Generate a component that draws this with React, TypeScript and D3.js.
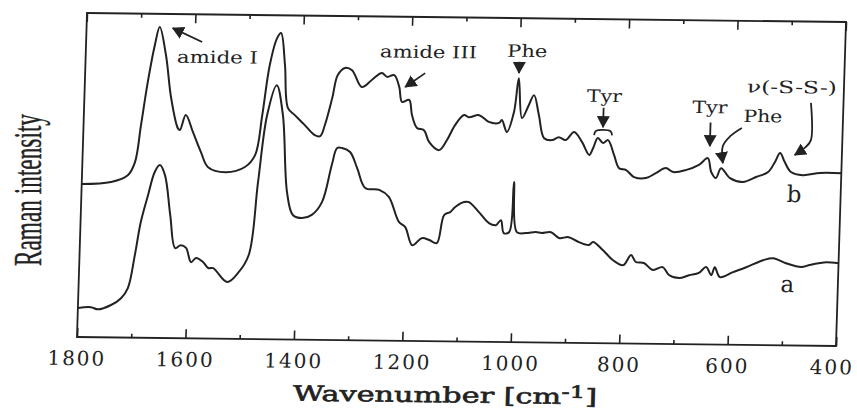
import * as d3 from 'd3';
import React, {useEffect, useRef} from 'react';

// trace b (upper): [wavenumber cm-1, Raman intensity a.u.]
const spectrumB: [number, number][] = [
  [1800, 51], [1746, 51.8], [1715, 54.2], [1703, 58.5], [1694, 70.9], [1684, 85.2], [1673, 97.6],
  [1665, 103.6], [1652, 94.3], [1640, 80], [1626, 70], [1622, 69.4], [1612, 74.4], [1598, 68.8],
  [1582, 62.1], [1568, 57.1], [1536, 55.5], [1500, 57.3], [1482, 61.3], [1471, 74.7], [1460, 91.4],
  [1448, 100.4], [1441, 102.1], [1432, 91.5], [1424, 77.1], [1411, 74.8], [1392, 71.5], [1373, 68.2],
  [1363, 67.9], [1355, 71.6], [1343, 80.6], [1334, 88.3], [1321, 90.7], [1308, 90], [1289, 84.4],
  [1271, 86.8], [1253, 89.2], [1243, 87.9], [1230, 88.5], [1220, 84.6], [1214, 79.6], [1201, 80.3],
  [1195, 75.3], [1185, 71], [1172, 70.3], [1162, 66.4], [1143, 63.7], [1129, 67.1], [1115, 72.1],
  [1099, 75.5], [1090, 74.8], [1071, 75.5], [1053, 73.3], [1034, 73], [1029, 74], [1019, 70],
  [1007, 76.7], [1000, 88], [992, 74.7], [980, 79.1], [971, 82.4], [961, 75.8], [950, 68.1],
  [935, 67.5], [923, 68.5], [910, 67.6], [895, 70.3], [880, 67], [866, 62.7], [859, 65], [851, 68.4],
  [841, 66.7], [832, 67.7], [820, 62.7], [810, 58.4], [797, 57.8], [782, 55.5], [760, 55.2],
  [742, 56.9], [724, 58.6], [710, 57.3], [687, 58], [663, 59.8], [647, 62.1], [640, 57.5],
  [631, 55.5], [622, 58.8], [605, 55.5], [581, 54.3], [557, 56], [535, 57.7], [523, 61.1],
  [514, 64.1], [505, 61.1], [493, 57.8], [471, 56.8], [439, 57.6], [400, 57.6],
];

// trace a (lower)
const spectrumA: [number, number][] = [
  [1800, 9.7], [1776, 10], [1763, 9.3], [1739, 10.8], [1721, 13.1], [1709, 16.5], [1698, 27.5],
  [1689, 38.5], [1677, 47.6], [1666, 55.3], [1657, 57.6], [1647, 54.3], [1635, 41], [1624, 30],
  [1614, 31], [1604, 30.1], [1594, 25.4], [1585, 26.8], [1572, 25.5], [1562, 23.5], [1553, 23.5],
  [1526, 18.9], [1507, 21.9], [1488, 28], [1475, 52.3], [1462, 74.7], [1446, 84.7], [1433, 74.8],
  [1421, 49.1], [1409, 41.5], [1392, 40.5], [1374, 41.6], [1356, 45.9], [1340, 58.3], [1331, 64],
  [1322, 64], [1307, 62.7], [1293, 57.4], [1277, 50.8], [1251, 50.2], [1233, 47.9], [1213, 39.6],
  [1201, 37.9], [1187, 31.9], [1170, 34.3], [1156, 33.7], [1142, 32.7], [1130, 42.1], [1119, 43.1],
  [1110, 44.8], [1094, 46.5], [1085, 46.5], [1066, 43.2], [1047, 39.6], [1034, 38.9], [1025, 40.6],
  [1019, 36.3], [1009, 36.7], [1003, 53.4], [995, 36.7], [978, 36.4], [960, 36.8], [949, 36.5],
  [932, 36.8], [917, 34.9], [899, 35.2], [880, 33.6], [861, 32.7], [854, 33.7], [835, 31],
  [816, 27.7], [797, 26.1], [783, 29.5], [774, 27.2], [759, 26.9], [742, 24.6], [724, 25.6],
  [712, 23], [693, 22], [675, 23], [657, 23.8], [644, 25.8], [634, 23.1], [628, 25.8], [618, 22.5],
  [594, 24.2], [570, 25.9], [539, 28.3], [521, 29], [497, 27.4], [469, 26.2], [453, 26.9],
  [434, 27.6], [423, 27.9], [400, 27.6],
];

const majorTicks = [1800, 1600, 1400, 1200, 1000, 800, 600, 400];
const minorTicks = [1700, 1500, 1300, 1100, 900, 700, 500];

// band labels, anchored at (wavenumber, intensity)
const peakLabels = [
  {text: 'amide I', wn: 1557, y: 91.8, size: 17, len: 81},
  {text: 'amide III', wn: 1168, y: 94.4, size: 17, len: 97},
  {text: 'Phe', wn: 986, y: 95.1, size: 17, len: 40},
  {text: 'Tyr', wn: 841, y: 80.4, size: 17, len: 35},
  {text: 'Tyr', wn: 646, y: 77.1, size: 17, len: 35},
  {text: 'Phe', wn: 548, y: 74.3, size: 17, len: 39},
  {text: 'ν(-S-S-)', wn: 496, y: 84.1, size: 17, len: 90},
  {text: 'b', wn: 486, y: 47.8, size: 23, len: 0},
  {text: 'a', wn: 493, y: 17.8, size: 23, len: 0},
];

const arrows: {pts: [number, number][], head: boolean}[] = [
  {pts: [[1586, 98.8], [1641, 103.3]], head: true},
  {pts: [[1173, 89.3], [1209, 84.6]], head: true},
  {pts: [[1000, 93.5], [1000, 89.7]], head: true},
  {pts: [[842, 78.5], [842, 72]], head: true},
  {pts: [[858, 69.3], [855, 70.7], [828, 70.7], [825, 69.3]], head: false},
  {pts: [[644, 74], [644, 66.1]], head: true},
  {pts: [[586, 72.3], [607, 69.5], [620, 66.2], [619, 60.5]], head: true},
  {pts: [[460, 80.9], [458, 68.5], [467, 66.2], [487, 63.5]], head: true},
];

export default function App() {
  const svgRef = useRef<SVGSVGElement>(null);

  useEffect(() => {
    drawSpectra();
  }, []);

  function drawSpectra() {
    const svg = d3.select(svgRef.current);
    svg.selectAll('*').remove();

    const ink = '#222';
    const width = 759, height = 324;

    svg.append('defs').append('marker')
      .attr('id', 'head')
      .attr('markerUnits', 'userSpaceOnUse')
      .attr('viewBox', '0 0 12 13')
      .attr('markerWidth', 12)
      .attr('markerHeight', 13)
      .attr('refX', 11)
      .attr('refY', 6.5)
      .attr('orient', 'auto')
      .append('path')
      .attr('d', 'M0,0L12,6.5L0,13Z')
      .attr('fill', ink);

    // y label
    svg.append('text')
      .attr('transform', 'translate(41,190) rotate(-90)')
      .attr('text-anchor', 'middle')
      .attr('font-family', 'Liberation Serif')
      .attr('font-size', 40)
      .attr('textLength', 152)
      .attr('lengthAdjust', 'spacingAndGlyphs')
      .attr('fill', ink)
      .attr('stroke', ink)
      .attr('stroke-width', 0.4)
      .text('Raman intensity');

    // the scanned frame is slightly sheared
    const g = svg.append('g')
      .attr('transform', 'matrix(1,0.01186,-0.0309,1,87,13)');

    const x = d3.scaleLinear().domain([1800, 400]).range([0, width]);
    const y = d3.scaleLinear().domain([0, 108]).range([height, 0]);

    const styleAxis = (a: any) => {
      a.select('.domain').remove();
      a.selectAll('line').attr('stroke', ink).attr('stroke-width', 1.6);
    };

    g.append('g')
      .attr('transform', 'translate(0,' + height + ')')
      .call(d3.axisBottom(x).tickValues(majorTicks).tickSize(-9).tickPadding(14).tickFormat((d: any) => String(d)))
      .call(styleAxis)
      .attr('font-family', 'DejaVu Serif')
      .attr('font-size', 20)
      .call((a: any) => a.selectAll('text')
        .attr('fill', ink)
        .attr('letter-spacing', 2)
        .attr('dx', (d: any) => (d === 400 ? -4 : 0)));

    g.append('g')
      .attr('transform', 'translate(0,' + height + ')')
      .call(d3.axisBottom(x).tickValues(minorTicks).tickSize(-4).tickFormat(() => ''))
      .call(styleAxis);

    g.append('g')
      .call(d3.axisTop(x).tickValues(majorTicks).tickSize(-9).tickFormat(() => ''))
      .call(styleAxis);

    g.append('g')
      .call(d3.axisTop(x).tickValues(minorTicks).tickSize(-4).tickFormat(() => ''))
      .call(styleAxis);

    g.append('rect')
      .attr('width', width)
      .attr('height', height)
      .attr('fill', 'none')
      .attr('stroke', ink)
      .attr('stroke-width', 1.8);

    // x title
    const title = g.append('text')
      .attr('x', width * 0.487)
      .attr('y', height + 61)
      .attr('text-anchor', 'middle')
      .attr('font-family', 'DejaVu Serif')
      .attr('font-size', 21)
      .attr('textLength', 304)
      .attr('lengthAdjust', 'spacingAndGlyphs')
      .attr('fill', ink)
      .attr('stroke', ink)
      .attr('stroke-width', 0.6);
    title.append('tspan').text('Wavenumber [cm');
    title.append('tspan').attr('dy', -6).attr('font-size', 17).text('-1');
    title.append('tspan').attr('dy', 6).text(']');

    const line = d3.line<[number, number]>()
      .x(d => x(d[0]))
      .y(d => y(d[1]))
      .curve(d3.curveCatmullRom.alpha(0.5));

    [spectrumA, spectrumB].forEach(s => {
      g.append('path')
        .datum(s)
        .attr('d', line)
        .attr('fill', 'none')
        .attr('stroke', ink)
        .attr('stroke-width', 2)
        .attr('stroke-linejoin', 'round');
    });

    arrows.forEach(a => {
      g.append('path')
        .datum(a.pts)
        .attr('d', line)
        .attr('fill', 'none')
        .attr('stroke', ink)
        .attr('stroke-width', 1.8)
        .attr('marker-end', a.head ? 'url(#head)' : null);
    });

    peakLabels.forEach(l => {
      const t = g.append('text')
        .attr('x', x(l.wn))
        .attr('y', y(l.y))
        .attr('text-anchor', 'middle')
        .attr('font-family', 'DejaVu Serif')
        .attr('font-size', l.size)
        .attr('fill', ink)
        .text(l.text);
      if (l.len) t.attr('textLength', l.len).attr('lengthAdjust', 'spacingAndGlyphs');
    });
  }

  return (
    <svg ref={svgRef} width={857} height={410}
      style={{position: 'absolute', left: 0, top: 0, background: '#fff'}}></svg>
  );
}
